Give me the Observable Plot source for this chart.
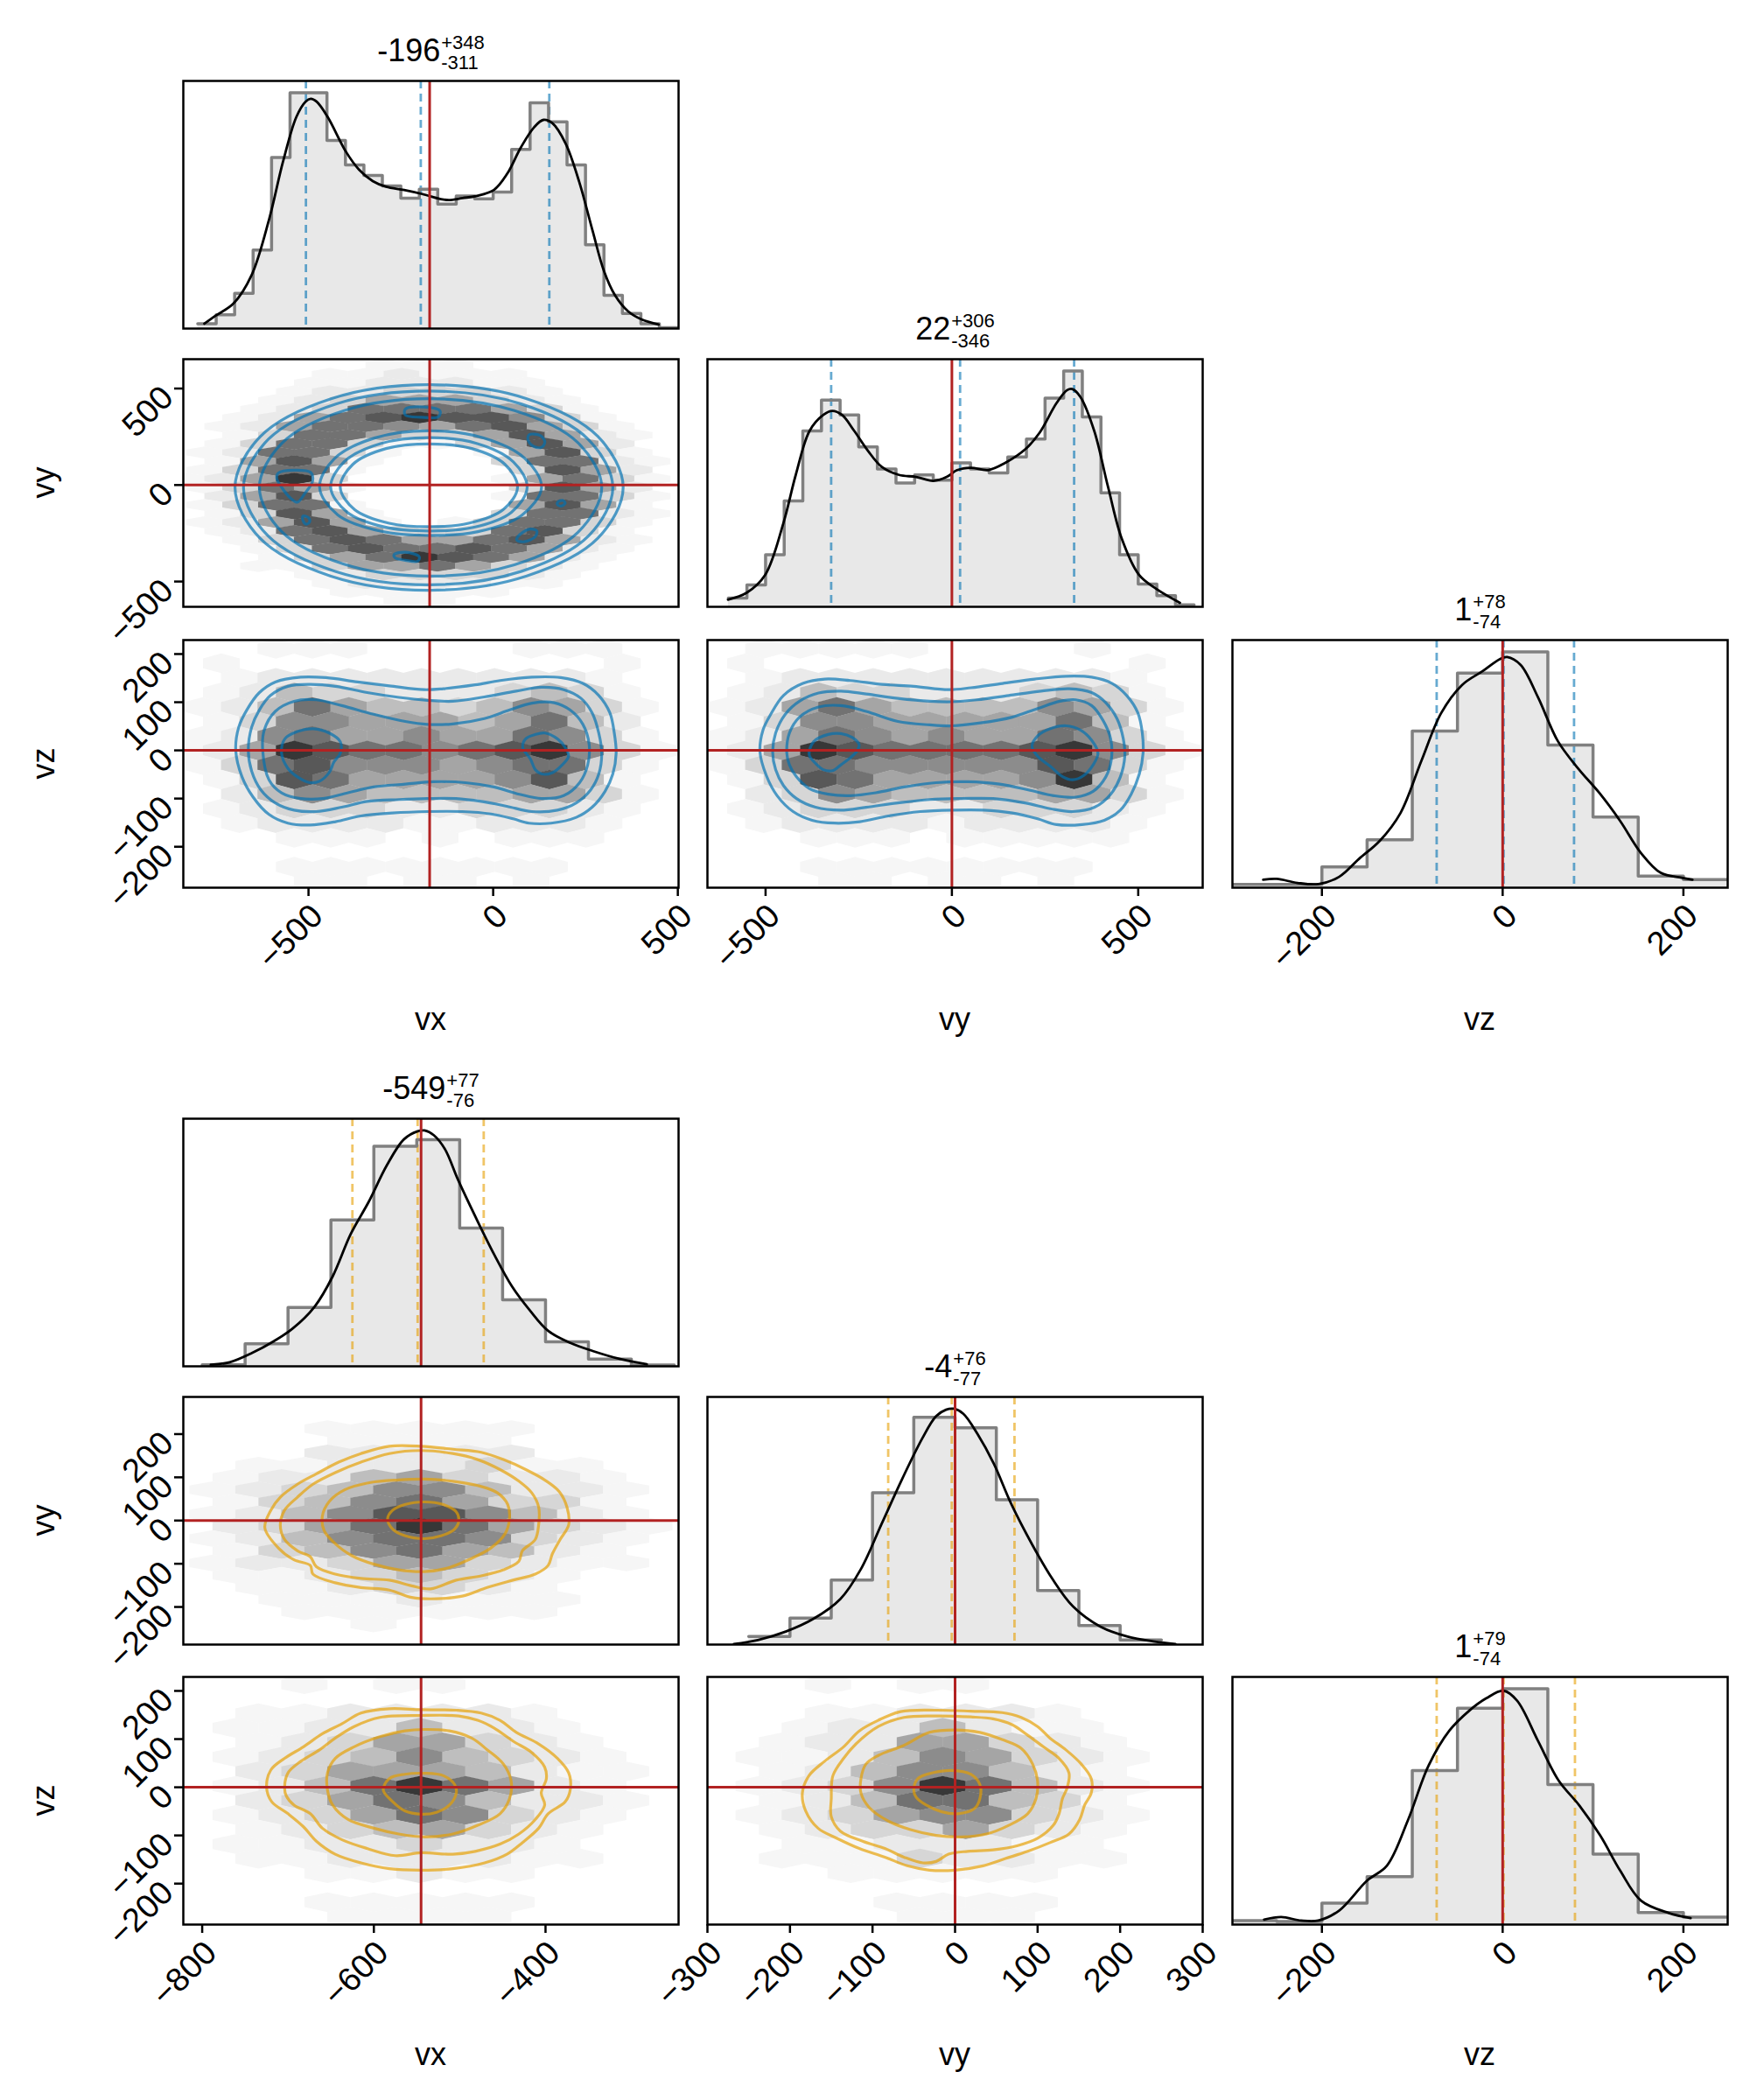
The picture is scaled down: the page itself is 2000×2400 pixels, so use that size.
<!DOCTYPE html>
<html><head><meta charset="utf-8">
<script src="https://cdn.jsdelivr.net/npm/d3@7"></script>
<script src="https://cdn.jsdelivr.net/npm/@observablehq/plot@0.6"></script>
<style>
body{margin:0;background:#fff;}
#fig{position:relative;width:2000px;height:2400px;background:#fff;overflow:hidden;}
</style></head><body><div id="fig"></div>
<script>
// ---------------- DATA ----------------
const varNames = ["vx","vy","vz"];
const titleMainTop = ["-196","22","1"], titleSupTop = ["+348","+306","+78"], titleSubTop = ["-311","-346","-74"];
const titleMainBot = ["-549","-4","1"], titleSupBot = ["+77","+76","+79"], titleSubBot = ["-76","-77","-74"];
const qTopVx = [-507,-196,152], qTopVy = [-324,22,328], qTopVz = [-73,1,79];
const qBotVx = [-625,-549,-472], qBotVy = [-81,-4,72], qBotVz = [-73,1,80];
const truthTopVx = -172, truthTopVy = 0, truthTopVz = 0;
const truthBotVx = -545, truthBotVy = 0, truthBotVz = 0;
const domTopVx = [-839,502], domTopVy = [-656,673], domTopVz = [-299,249];
const domTopRowVy = [-631,652], domTopRowVz = [-285,229];
const domBotVx = [-822,-245], domBotVy = [-300,300], domBotVz = [-299,249];
const domBotRowVy = [-287,286], domBotRowVz = [-285,229];
const ticksTopVx = [-500,0,500], ticksTopVy = [-500,0,500], ticksTopVz = [-200,0,200];
const ticksTopRowVy = [-500,0,500], ticksTopRowVz = [-200,-100,0,100,200];
const ticksBotVx = [-800,-600,-400], ticksBotVy = [-300,-200,-100,0,100,200,300], ticksBotVz = [-200,0,200];
const ticksBotRowVy = [-200,-100,0,100,200], ticksBotRowVz = [-200,-100,0,100,200];

const edgesTopVx = [-800,-750,-700,-650,-600,-550,-500,-450,-400,-350,-300,-250,-200,-150,-100,-50,0,50,100,150,200,250,300,350,400,450,500];
const countsTopVx = [12,34,87,194,422,582,582,464,404,378,352,322,344,307,327,320,337,442,557,510,404,207,82,37,12,2];
const edgesTopVy = [-600,-550,-500,-450,-400,-350,-300,-250,-200,-150,-100,-50,0,50,100,150,200,250,300,350,400,450,500,550,600,650];
const countsTopVy = [22,55,130,265,440,517,480,400,345,310,330,317,360,345,335,375,420,522,590,475,285,130,57,28,5];
const edgesTopVz = [-300,-250,-200,-150,-100,-50,0,50,100,150,200,250];
const countsTopVz = [8,8,52,120,392,537,590,357,177,29,20];
const edgesBotVx = [-800,-750,-700,-650,-600,-550,-500,-450,-400,-350,-300,-250];
const countsBotVx = [4,56,146,363,546,562,343,165,61,18,3];
const edgesBotVy = [-250,-200,-150,-100,-50,0,50,100,150,200,250];
const countsBotVy = [16,53,129,303,454,433,289,108,38,9];
const edgesBotVz = [-300,-250,-200,-150,-100,-50,0,50,100,150,200,250];
const countsBotVz = [8,6,43,96,308,433,472,280,141,24,15];

const kdeTopVxX = [-782,-751,-703,-654,-606,-569,-533,-508,-494,-478,-448,-399,-363,-326,-290,-241,-192,-144,-120,-83,-47,2,38,75,111,136,160,196,233,269,300,330,366,403,448];
const kdeTopVxY = [12,32,62,132,272,412,522,560,567,560,522,437,392,364,350,342,332,320,317,322,327,342,382,447,497,515,507,457,362,242,142,82,42,22,10];
const kdeTopVyX = [-601,-551,-501,-452,-419,-382,-345,-321,-295,-262,-225,-188,-142,-96,-50,-14,14,51,97,143,198,235,281,309,323,345,382,419,456,502,548,612];
const kdeTopVyY = [18,35,80,210,330,440,480,490,480,440,390,350,330,325,315,325,342,348,342,360,395,435,510,542,545,525,440,300,170,80,45,10];
const kdeTopVzX = [-265,-250,-227,-204,-181,-159,-136,-113,-90,-68,-45,-22,-3,5,20,39,61,84,107,130,153,175,198,210];
const kdeTopVzY = [20,22,12,9,27,72,117,187,317,437,507,542,572,577,557,477,367,297,237,167,87,37,25,20];
const kdeBotVxX = [-790,-768,-742,-716,-695,-669,-648,-627,-606,-585,-565,-549,-541,-530,-517,-502,-481,-460,-439,-418,-397,-371,-345,-313,-282];
const kdeBotVxY = [4,10,33,63,93,148,223,328,408,498,563,583,585,573,538,463,368,278,198,138,88,58,38,18,5];
const kdeBotVyX = [-268,-239,-205,-172,-139,-114,-89,-64,-40,-23,-11,-2,10,27,47,68,93,118,143,176,209,242,267];
const kdeBotVyY = [1,9,26,51,91,151,241,331,411,456,469,471,461,421,361,281,201,131,76,36,16,6,1];
const kdeBotVzX = [-264,-245,-223,-204,-181,-150,-128,-105,-82,-59,-37,-18,1,16,39,62,85,108,130,153,184,208];
const kdeBotVzY = [10,15,8,8,28,88,118,208,318,388,428,453,468,448,368,288,238,178,108,48,23,13];

const hexRowsA = ["00000111000000","00001121110000","00011222110000","00012233321000","00123555321000","00123777753100","01257898863100","01257765785310","01377533585210","01377311358520","12773100158310","01585100037721","13771000038520","12593000015731","13751000038520","02583000017731","13771000058510","01385100037721","12585101377310","01278533378310","01378755785210","00137877875210","00135798752100","00113557532100","00012333321000","00001222211000","00001111100000","00000011000000"];
const hexAxStart = [-781.5,-830], hexAxStep = 97, hexAyStart = 620.4, hexAyStep = -45.2;
const hexRowsB = ["00111000011100","01000000000010","01222222222100","01243322234310","12475443465310","01366555457420","12675565576310","12598776789631","13786665677310","01387555568410","02465444455310","01233322333210","01222211222100","00011101011100","00000000000000","00011111111000","00011011010000"];
const hexBxStart = [-785.8,-834.7], hexBxStep = 98.7, hexByStart = 210.9, hexByStep = -30.17;
const hexRowsC = ["01111100001000","01000000000010","01222222222100","01243322234310","12575444465310","01366555557410","12576565576310","12598777789631","13776666687310","01387555569410","02365444455310","01233322333210","01222212222100","00011101111100","00000000000000","00011111111000","00011011010000"];
const hexCxStart = [-603.2,-651.7], hexCxStep = 98, hexCyStart = 210.9, hexCyStep = -30.17;
const hexRowsD = ["00011111000","00011110000","00022222000","01122231100","01224532210","12346642210","01346753310","12468864210","02357975321","12467763210","01346754210","12235532110","01123432100","01123321000","00111211100","00111111000","00001000000"];
const hexDxStart = [-814.6,-788], hexDxStep = 53.55, hexDyStart = 212.7, hexDyStep = -28.25;
const hexRowsE = ["00101100000","00000000000","01122221000","01122422100","01235532100","01234643210","02355542110","01247975210","02357642210","01235763210","01234532100","01122322100","01122221100","00011211000","00000000000","00011111000","00011110000"];
const hexExStart = [-788,-814.6], hexExStep = 53.55, hexEyStart = 213.9, hexEyStep = -30.17;
const hexRowsF = ["00101100000","00000000000","00112221000","00122421100","01225532100","01124653210","01246642100","01236974210","01247743100","01235663210","01233532100","00112221100","01113221100","00011111000","00000000000","00001111000","00001110000"];
const hexFxStart = [-265.4,-293.5], hexFxStep = 55.7, hexFyStart = 213.9, hexFyStep = -30.17;

const ringCenter = [-174,-12];
const ringAngles = [0,30,60,90,120,150,180,210,240,270,300,330];
const ringR1 = [526,528,530,532,530,527,525,528,531,533,530,528];
const ringR2 = [498,498,499,499,500,501,502,503,504,505,502,500];
const ringR3 = [468,465,460,459,459,459,459,460,460,460,463,466];
const ringR4 = [305,300,296,293,295,296,296,285,262,249,265,290];
const ringR5 = [266,264,262,258,262,265,266,256,238,226,240,258];
const ringR6 = [240,238,232,225,232,238,240,232,215,204,215,232];
const ringIslandLeft = [[-582,62],[-539,77],[-494,65],[-489,20],[-509,-41],[-530,-89],[-547,-71],[-573,-11],[-586,35]];
const ringIslandTop = [[-238,393],[-187,404],[-144,384],[-148,354],[-195,351],[-238,363]];
const ringIslandBottom = [[-268,-360],[-238,-348],[-200,-372],[-204,-395],[-238,-390],[-266,-377]];
const ringIslandRightUp = [[97,260],[127,257],[140,223],[131,196],[110,200],[95,230]];
const ringIslandRightLow = [[67,-267],[97,-229],[118,-237],[114,-267],[84,-294],[64,-285]];
const ringIslandSmallR = [[176,-86],[189,-80],[195,-94],[184,-109],[174,-101]];
const ringIslandSmallL = [[-515,-161],[-500,-169],[-497,-191],[-506,-203],[-515,-184]];

const contourB1 = [[-697,0],[-689,48],[-667,84],[-633,120],[-590,142],[-521,152],[-453,151],[-367,142],[-281,134],[-187,126],[-135,128],[-49,136],[19,145],[105,152],[183,151],[243,139],[286,114],[316,78],[328,36],[333,-6],[324,-49],[303,-85],[268,-118],[225,-139],[157,-151],[97,-151],[54,-142],[-6,-132],[-84,-127],[-178,-127],[-273,-130],[-358,-136],[-427,-148],[-496,-155],[-556,-151],[-607,-133],[-650,-97],[-680,-55]];
const contourB2 = [[-663,0],[-654,48],[-633,84],[-603,114],[-556,133],[-496,137],[-427,133],[-341,120],[-255,110],[-178,104],[-109,102],[-24,111],[62,123],[131,131],[191,126],[238,108],[268,78],[286,36],[294,-6],[286,-49],[264,-82],[225,-109],[174,-124],[105,-127],[37,-116],[-32,-106],[-101,-100],[-178,-100],[-255,-102],[-341,-106],[-410,-118],[-479,-127],[-539,-124],[-590,-109],[-629,-82],[-654,-43]];
const contourB3 = [[-624,0],[-620,42],[-590,81],[-539,102],[-479,105],[-410,93],[-324,75],[-238,60],[-178,54],[-109,55],[-24,66],[45,84],[105,98],[165,99],[208,84],[243,54],[260,12],[256,-30],[234,-67],[191,-94],[131,-100],[71,-91],[2,-76],[-75,-67],[-161,-65],[-238,-70],[-324,-76],[-393,-88],[-461,-100],[-521,-100],[-573,-88],[-607,-61]];
const contourB4L = [[-573,-6],[-564,24],[-530,39],[-487,45],[-444,36],[-414,18],[-414,-6],[-431,-24],[-444,-46],[-470,-64],[-496,-67],[-530,-55],[-556,-37]];
const contourB4R = [[80,6],[88,24],[114,33],[140,36],[174,24],[195,6],[204,-12],[187,-30],[161,-46],[131,-49],[114,-40],[101,-18]];

const contourC1 = [[-515,-3],[-507,42],[-486,75],[-452,114],[-400,139],[-341,148],[-273,145],[-187,137],[-102,133],[-9,126],[51,130],[136,139],[222,148],[307,154],[375,152],[430,139],[469,114],[499,78],[511,36],[513,-6],[503,-49],[481,-91],[452,-124],[409,-145],[349,-154],[281,-154],[230,-142],[162,-130],[85,-124],[0,-124],[-85,-127],[-170,-136],[-247,-148],[-315,-151],[-375,-145],[-426,-127],[-469,-94],[-498,-52]];
const contourC2 = [[-481,-3],[-473,36],[-447,75],[-409,102],[-358,119],[-298,123],[-230,117],[-145,108],[-60,102],[0,101],[68,105],[153,114],[239,123],[315,128],[375,120],[413,99],[443,66],[460,24],[464,-12],[452,-55],[426,-91],[383,-118],[324,-127],[264,-121],[196,-109],[111,-100],[26,-100],[-60,-102],[-145,-109],[-230,-118],[-298,-124],[-366,-118],[-417,-100],[-452,-73],[-473,-40]];
const contourC3 = [[-443,-6],[-436,36],[-409,69],[-358,90],[-298,93],[-230,81],[-145,60],[-60,53],[0,51],[77,57],[162,69],[230,87],[290,102],[332,105],[375,93],[405,63],[426,24],[428,-18],[413,-55],[379,-85],[332,-97],[273,-94],[205,-82],[128,-70],[43,-65],[-43,-67],[-128,-76],[-204,-88],[-273,-94],[-332,-91],[-383,-79],[-417,-55],[-436,-30]];
const contourC4L = [[-383,-9],[-371,18],[-332,33],[-298,35],[-268,27],[-249,12],[-256,-3],[-277,-18],[-298,-30],[-320,-42],[-345,-40],[-366,-27]];
const contourC4R = [[215,9],[230,30],[264,45],[307,51],[345,42],[375,21],[392,-6],[379,-30],[354,-52],[324,-61],[298,-55],[264,-33],[230,-12]];

const contourD1 = [[-727,-17],[-720,24],[-709,54],[-689,84],[-667,108],[-641,135],[-615,155],[-582,172],[-545,172],[-508,165],[-475,158],[-449,141],[-423,118],[-401,94],[-384,67],[-375,31],[-373,-10],[-383,-44],[-392,-77],[-397,-104],[-412,-124],[-438,-138],[-468,-155],[-497,-175],[-527,-181],[-556,-178],[-582,-161],[-615,-155],[-645,-144],[-671,-124],[-674,-104],[-693,-91],[-711,-64]];
const contourD2 = [[-709,-10],[-704,24],[-689,54],[-671,84],[-645,111],[-615,135],[-582,155],[-545,162],[-508,155],[-479,141],[-453,118],[-431,91],[-416,64],[-408,31],[-408,-10],[-412,-44],[-427,-70],[-431,-94],[-449,-114],[-475,-128],[-504,-138],[-534,-158],[-556,-151],[-582,-138],[-615,-134],[-645,-124],[-667,-107],[-674,-84],[-689,-70],[-704,-44]];
const contourD3 = [[-660,10],[-652,44],[-634,71],[-604,88],[-571,94],[-541,96],[-508,91],[-479,81],[-456,64],[-444,37],[-442,4],[-447,-30],[-464,-64],[-490,-91],[-516,-111],[-541,-118],[-571,-114],[-600,-101],[-626,-81],[-647,-50],[-658,-23]];
const contourD4 = [[-584,4],[-578,24],[-564,37],[-541,43],[-519,37],[-504,20],[-501,0],[-506,-20],[-521,-35],[-541,-42],[-564,-35],[-578,-20]];

const contourE1 = [[-725,0],[-720,36],[-704,60],[-682,84],[-660,111],[-637,132],[-615,154],[-582,163],[-545,161],[-504,160],[-475,154],[-453,139],[-434,114],[-408,90],[-386,60],[-373,30],[-371,-3],[-377,-30],[-397,-55],[-408,-85],[-427,-115],[-445,-139],[-471,-157],[-508,-169],[-545,-172],[-582,-169],[-615,-157],[-645,-139],[-667,-112],[-682,-82],[-700,-55],[-719,-30]];
const contourE2 = [[-704,0],[-700,30],[-685,54],[-663,78],[-645,102],[-623,126],[-593,145],[-545,149],[-501,148],[-479,139],[-460,123],[-438,96],[-416,72],[-401,42],[-399,18],[-405,-12],[-401,-37],[-412,-67],[-431,-97],[-453,-118],[-482,-133],[-508,-139],[-545,-136],[-575,-142],[-608,-127],[-637,-109],[-660,-85],[-674,-55],[-693,-37],[-702,-18]];
const contourE3 = [[-654,30],[-645,60],[-623,84],[-593,105],[-564,117],[-541,120],[-512,117],[-486,102],[-468,78],[-449,48],[-440,12],[-442,-24],[-453,-55],[-479,-79],[-508,-97],[-541,-103],[-571,-97],[-600,-85],[-630,-67],[-648,-37],[-654,-6]];
const contourE4 = [[-589,-6],[-582,18],[-564,27],[-541,29],[-519,24],[-506,6],[-504,-12],[-512,-37],[-527,-52],[-545,-56],[-564,-49],[-578,-30]];

const contourF1 = [[-185,-12],[-177,24],[-158,54],[-135,84],[-116,117],[-93,139],[-66,157],[-23,160],[19,158],[57,155],[80,145],[100,126],[115,102],[134,78],[153,48],[165,18],[165,-12],[157,-37],[151,-67],[138,-97],[115,-115],[88,-133],[61,-148],[34,-163],[0,-172],[-31,-172],[-58,-163],[-85,-145],[-116,-127],[-143,-106],[-166,-85],[-181,-49]];
const contourF2 = [[-148,24],[-135,60],[-120,90],[-93,126],[-62,145],[-23,148],[19,146],[46,142],[69,130],[88,108],[107,84],[126,60],[138,30],[136,0],[130,-24],[126,-55],[119,-79],[100,-106],[76,-121],[46,-130],[15,-133],[-8,-139],[-23,-154],[-39,-157],[-62,-145],[-85,-127],[-112,-112],[-139,-91],[-150,-61],[-150,-24]];
const contourF3 = [[-114,18],[-108,48],[-93,66],[-62,87],[-31,114],[0,119],[30,114],[57,99],[80,81],[94,48],[100,12],[98,-24],[88,-55],[65,-79],[38,-97],[7,-103],[-23,-100],[-54,-88],[-81,-70],[-104,-42],[-114,-12]];
const contourF4 = [[-50,-6],[-45,18],[-27,30],[-4,35],[19,27],[30,6],[30,-24],[23,-45],[3,-55],[-16,-51],[-35,-37],[-47,-21]];

// ---------------- STYLE / LAYOUT ----------------
const FONT = "'Liberation Sans', Arial, Helvetica, sans-serif";
const TICK_FONT = 38;
const RED = "#b22222";
const BLUE = "#0072B2", ORANGE = "#E69F00";
const HEX_GRAY = [255,246,234,214,190,165,140,114,88,55];
const PW = 566, PH = 283, ML = 150, MR = 40, MT = 20, MB = 160;
const colLeft = [209,808,1408];
const rowTopUpper = [92,410,731];
const rowTopLower = [1278,1596,1916];
const fig = document.getElementById("fig");

const fmt = d => d < 0 ? "\u2212" + Math.abs(d) : String(d);
const gray = lv => { const g = HEX_GRAY[lv]; return `rgb(${g},${g},${g})`; };

function hexSymbol(w, h) {
  return {draw(ctx) {
    const a = w / 2, b = h / 2, c = h / 4;
    ctx.moveTo(0, -b); ctx.lineTo(a, -c); ctx.lineTo(a, c);
    ctx.lineTo(0, b); ctx.lineTo(-a, c); ctx.lineTo(-a, -c); ctx.closePath();
  }};
}

function addPanel(left, top, xDom, yDom, marks, xTicks, yTicks) {
  const m = [...marks, Plot.frame({stroke: "black", strokeWidth: 2.5})];
  if (xTicks) {
    m.push(Plot.axisX({ticks: xTicks, tickFormat: () => "", tickSize: 10, strokeWidth: 2.5, label: null}));
    m.push(Plot.axisX({ticks: xTicks, tickFormat: fmt, tickSize: 0, tickPadding: 16, tickRotate: -45,
      fontSize: TICK_FONT, dx: 10, dy: 10, label: null}));
  }
  if (yTicks) {
    m.push(Plot.axisY({ticks: yTicks, tickFormat: () => "", tickSize: 10, strokeWidth: 2.5, label: null}));
    m.push(Plot.axisY({ticks: yTicks, tickFormat: fmt, tickSize: 0, tickPadding: 16, tickRotate: -45,
      fontSize: TICK_FONT, dx: -2, dy: 4, label: null}));
  }
  const svg = Plot.plot({
    width: PW + ML + MR, height: PH + MT + MB,
    marginLeft: ML, marginRight: MR, marginTop: MT, marginBottom: MB,
    x: {domain: xDom, axis: null}, y: {domain: yDom, axis: null},
    color: {type: "identity"},
    style: {background: "transparent", overflow: "visible", fontFamily: FONT, fontSize: TICK_FONT + "px", color: "black"},
    marks: m
  });
  svg.style.position = "absolute";
  svg.style.left = (left - ML) + "px";
  svg.style.top = (top - MT) + "px";
  svg.style.maxWidth = "none";
  fig.appendChild(svg);
}

function histMarks(edges, counts, kx, ky, q, truth, qColor) {
  const steps = counts.map((c, i) => ({x: edges[i], y: c}));
  steps.push({x: edges[edges.length - 1], y: counts[counts.length - 1]});
  const kde = kx.map((x, i) => ({x, y: ky[i]}));
  return [
    Plot.areaY(steps, {x: "x", y: "y", curve: "step-after", fill: "#e8e8e8", clip: true}),
    Plot.ruleX(q, {stroke: qColor, strokeOpacity: 0.6, strokeWidth: 2.8, strokeDasharray: "9,6"}),
    Plot.lineY(steps, {x: "x", y: "y", curve: "step-after", stroke: "#808080", strokeWidth: 3.5, clip: true}),
    Plot.line(kde, {x: "x", y: "y", curve: "catmull-rom", stroke: "black", strokeWidth: 2.8, clip: true}),
    Plot.ruleX([truth], {stroke: RED, strokeWidth: 3})
  ];
}
function histDomain(counts, ky) { return [0, Math.max(d3.max(counts), d3.max(ky)) * 1.05]; }

function pairMarks(rows, xStart, xStep, yStart, yStep, xDom, yDom, contours, color, tx, ty) {
  const cells = [];
  rows.forEach((row, r) => {
    for (let k = 0; k < row.length; k++) {
      const lv = +row[k];
      if (lv > 0) cells.push({x: xStart[r % 2] + k * xStep, y: yStart + r * yStep, lv});
    }
  });
  const w = xStep * PW / (xDom[1] - xDom[0]) + 0.4;
  const h = Math.abs(yStep) / 0.75 * PH / (yDom[1] - yDom[0]) + 0.4;
  const pts = [];
  contours.forEach((c, i) => c.forEach(([x, y]) => pts.push({x, y, id: i})));
  return [
    Plot.dot(cells, {x: "x", y: "y", r: 4, symbol: hexSymbol(w, h), fill: d => gray(d.lv), clip: true}),
    Plot.line(pts, {x: "x", y: "y", z: "id", curve: "catmull-rom-closed", stroke: color, strokeOpacity: 0.68, strokeWidth: 3.2, clip: true}),
    Plot.ruleX([tx], {stroke: RED, strokeWidth: 3}),
    Plot.ruleY([ty], {stroke: RED, strokeWidth: 3})
  ];
}
const polar = (radii) => ringAngles.map((a, i) => [ringCenter[0] + radii[i] * Math.cos(a * Math.PI / 180), ringCenter[1] + radii[i] * Math.sin(a * Math.PI / 180)]);

// ---------------- UPPER CORNER ----------------
addPanel(colLeft[0], rowTopUpper[0], domTopVx, histDomain(countsTopVx, kdeTopVxY),
  histMarks(edgesTopVx, countsTopVx, kdeTopVxX, kdeTopVxY, qTopVx, truthTopVx, BLUE));
addPanel(colLeft[0], rowTopUpper[1], domTopVx, domTopRowVy,
  pairMarks(hexRowsA, hexAxStart, hexAxStep, hexAyStart, hexAyStep, domTopVx, domTopRowVy,
    [polar(ringR1), polar(ringR2), polar(ringR3), polar(ringR4), polar(ringR5), polar(ringR6),
     ringIslandLeft, ringIslandTop, ringIslandBottom, ringIslandRightUp, ringIslandRightLow, ringIslandSmallR, ringIslandSmallL],
    BLUE, truthTopVx, truthTopVy), null, ticksTopRowVy);
addPanel(colLeft[1], rowTopUpper[1], domTopVy, histDomain(countsTopVy, kdeTopVyY),
  histMarks(edgesTopVy, countsTopVy, kdeTopVyX, kdeTopVyY, qTopVy, truthTopVy, BLUE));
addPanel(colLeft[0], rowTopUpper[2], domTopVx, domTopRowVz,
  pairMarks(hexRowsB, hexBxStart, hexBxStep, hexByStart, hexByStep, domTopVx, domTopRowVz,
    [contourB1, contourB2, contourB3, contourB4L, contourB4R], BLUE, truthTopVx, truthTopVz), ticksTopVx, ticksTopRowVz);
addPanel(colLeft[1], rowTopUpper[2], domTopVy, domTopRowVz,
  pairMarks(hexRowsC, hexCxStart, hexCxStep, hexCyStart, hexCyStep, domTopVy, domTopRowVz,
    [contourC1, contourC2, contourC3, contourC4L, contourC4R], BLUE, truthTopVy, truthTopVz), ticksTopVy, null);
addPanel(colLeft[2], rowTopUpper[2], domTopVz, histDomain(countsTopVz, kdeTopVzY),
  histMarks(edgesTopVz, countsTopVz, kdeTopVzX, kdeTopVzY, qTopVz, truthTopVz, BLUE), ticksTopVz, null);

// ---------------- LOWER CORNER ----------------
addPanel(colLeft[0], rowTopLower[0], domBotVx, histDomain(countsBotVx, kdeBotVxY),
  histMarks(edgesBotVx, countsBotVx, kdeBotVxX, kdeBotVxY, qBotVx, truthBotVx, ORANGE));
addPanel(colLeft[0], rowTopLower[1], domBotVx, domBotRowVy,
  pairMarks(hexRowsD, hexDxStart, hexDxStep, hexDyStart, hexDyStep, domBotVx, domBotRowVy,
    [contourD1, contourD2, contourD3, contourD4], ORANGE, truthBotVx, truthBotVy), null, ticksBotRowVy);
addPanel(colLeft[1], rowTopLower[1], domBotVy, histDomain(countsBotVy, kdeBotVyY),
  histMarks(edgesBotVy, countsBotVy, kdeBotVyX, kdeBotVyY, qBotVy, truthBotVy, ORANGE));
addPanel(colLeft[0], rowTopLower[2], domBotVx, domBotRowVz,
  pairMarks(hexRowsE, hexExStart, hexExStep, hexEyStart, hexEyStep, domBotVx, domBotRowVz,
    [contourE1, contourE2, contourE3, contourE4], ORANGE, truthBotVx, truthBotVz), ticksBotVx, ticksBotRowVz);
addPanel(colLeft[1], rowTopLower[2], domBotVy, domBotRowVz,
  pairMarks(hexRowsF, hexFxStart, hexFxStep, hexFyStart, hexFyStep, domBotVy, domBotRowVz,
    [contourF1, contourF2, contourF3, contourF4], ORANGE, truthBotVy, truthBotVz), ticksBotVy, null);
addPanel(colLeft[2], rowTopLower[2], domBotVz, histDomain(countsBotVz, kdeBotVzY),
  histMarks(edgesBotVz, countsBotVz, kdeBotVzX, kdeBotVzY, qBotVz, truthBotVz, ORANGE), ticksBotVz, null);

// ---------------- TEXT OVERLAY ----------------
const over = d3.select(fig).append("svg")
  .attr("width", 2000).attr("height", 2400)
  .style("position", "absolute").style("left", "0px").style("top", "0px")
  .style("pointer-events", "none").style("font-family", FONT);

function title(cx, base, main, sup, sub) {
  const g = over.append("g").attr("fill", "black");
  const t = g.append("text").attr("y", base).attr("font-size", 36).text(main);
  const s1 = g.append("text").attr("y", base - 14).attr("font-size", 22).text(sup);
  const s2 = g.append("text").attr("y", base + 9).attr("font-size", 22).text(sub);
  const mw = t.node().getComputedTextLength();
  const sw = Math.max(s1.node().getComputedTextLength(), s2.node().getComputedTextLength());
  const x0 = cx - (mw + sw) / 2;
  t.attr("x", x0); s1.attr("x", x0 + mw + 1); s2.attr("x", x0 + mw + 1);
}
const colCenter = colLeft.map(l => l + PW / 2);
for (let i = 0; i < 3; i++) {
  title(colCenter[i], rowTopUpper[i] - 22, titleMainTop[i], titleSupTop[i], titleSubTop[i]);
  title(colCenter[i], rowTopLower[i] - 22, titleMainBot[i], titleSupBot[i], titleSubBot[i]);
  over.append("text").attr("x", colCenter[i]).attr("y", 1177).attr("text-anchor", "middle").attr("font-size", 36).text(varNames[i]);
  over.append("text").attr("x", colCenter[i]).attr("y", 2360).attr("text-anchor", "middle").attr("font-size", 36).text(varNames[i]);
}
[[rowTopUpper[1], "vy"], [rowTopUpper[2], "vz"], [rowTopLower[1], "vy"], [rowTopLower[2], "vz"]].forEach(([t, lab]) => {
  const cy = t + PH / 2;
  over.append("text").attr("x", 62).attr("y", cy).attr("text-anchor", "middle").attr("font-size", 36)
    .attr("transform", `rotate(-90,62,${cy})`).text(lab);
});
</script></body></html>
